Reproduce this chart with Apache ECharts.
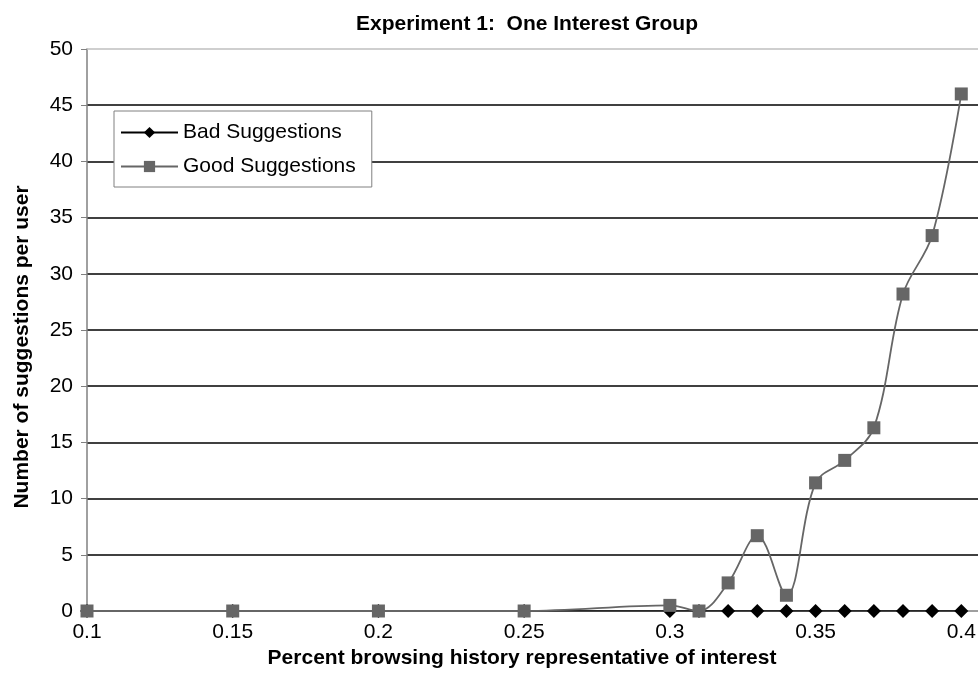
<!DOCTYPE html>
<html><head><meta charset="utf-8">
<script src="https://cdn.jsdelivr.net/npm/echarts@6/dist/echarts.min.js"></script>
<style>html,body{margin:0;padding:0;background:#fff}#c{width:978px;height:689px}</style>
</head><body><div id="c"></div>
<script>
const xValues = [0.1, 0.15, 0.2, 0.25, 0.3, 0.31, 0.32, 0.33, 0.34, 0.35, 0.36, 0.37, 0.38, 0.39, 0.4];
const badSuggestions = [0, 0, 0, 0, 0, 0, 0, 0, 0, 0, 0, 0, 0, 0, 0];
const goodSuggestions = [0, 0, 0, 0, 0.5, 0, 2.5, 6.7, 1.4, 11.4, 13.4, 16.3, 28.2, 33.4, 46.0];
const yTicks = [0, 5, 10, 15, 20, 25, 30, 35, 40, 45, 50];
const xTicks = [0.1, 0.15, 0.2, 0.25, 0.3, 0.35, 0.4];

const font = 'Liberation Sans, Arial, sans-serif';
const chart = echarts.init(document.getElementById('c'), null, {renderer: 'canvas'});
chart.setOption({
  animation: false,
  title: {
    text: 'Experiment 1:  One Interest Group',
    left: 522, top: 9, textAlign: 'center',
    textStyle: {fontFamily: font, fontSize: 21, fontWeight: 'bold', color: '#000'}
  },
  legend: {
    left: 114, top: 111, orient: 'vertical',
    itemWidth: 57, itemHeight: 14, itemGap: 13,
    padding: [11, 16, 10, 6],
    backgroundColor: '#fff', borderColor: '#808080', borderWidth: 1,
    textStyle: {fontFamily: font, fontSize: 21, color: '#000'},
    data: ['Bad Suggestions', 'Good Suggestions']
  },
  grid: {left: 87, width: 1020, top: 49, bottom: 78, containLabel: false, outerBoundsMode: 'none'},
  xAxis: [{
    type: 'value', min: 0.1, max: 0.45, interval: 0.05,
    axisLine: {show: true, lineStyle: {color: '#808080', width: 1.5}},
    axisTick: {show: false},
    splitLine: {show: false},
    axisLabel: {fontFamily: font, fontSize: 21, color: '#000', margin: 11,
      formatter: v => { const t = xTicks.find(x => Math.abs(x - v) < 1e-9); return t === undefined ? '' : String(t); }},
    name: 'Percent browsing history representative of interest',
    nameLocation: 'middle', nameGap: 31,
    nameTextStyle: {fontFamily: font, fontSize: 21, fontWeight: 'bold', color: '#000', padding: [0, 150, 0, 0]}
  }, {
    type: 'value', position: 'top', min: 0.1, max: 0.45, interval: 0.05,
    axisLine: {show: true, lineStyle: {color: '#c0c0c0', width: 1.5}},
    axisTick: {show: false}, axisLabel: {show: false}, splitLine: {show: false}
  }],
  yAxis: {
    type: 'value', min: 0, max: 50, interval: 5,
    axisLine: {show: true, lineStyle: {color: '#808080', width: 1.5}},
    axisTick: {show: true, inside: false, length: 6, lineStyle: {color: '#808080'}},
    splitLine: {show: true, showMinLine: false, showMaxLine: false, lineStyle: {color: '#000', width: 1.5}},
    axisLabel: {fontFamily: font, fontSize: 21, color: '#000', margin: 14,
      formatter: v => { const t = yTicks.find(y => Math.abs(y - v) < 1e-9); return t === undefined ? '' : String(t); }},
    name: 'Number of suggestions per user',
    nameLocation: 'middle', nameGap: 54, nameRotate: 90,
    nameTextStyle: {fontFamily: font, fontSize: 21, fontWeight: 'bold', color: '#000', padding: [0, 34, 0, 0]}
  },
  series: [{
    name: 'Bad Suggestions', type: 'line', xAxisIndex: 0,
    data: xValues.map((x, i) => [x, badSuggestions[i]]),
    symbol: 'diamond', symbolSize: 14, showAllSymbol: true,
    lineStyle: {color: '#000', width: 1.5},
    itemStyle: {color: '#000'}, z: 2
  }, {
    name: 'Good Suggestions', type: 'line', xAxisIndex: 0,
    data: xValues.map((x, i) => [x, goodSuggestions[i]]),
    symbol: 'rect', symbolSize: 13, showAllSymbol: true, smooth: 0.35,
    lineStyle: {color: '#666', width: 1.8},
    itemStyle: {color: '#666'}, z: 3
  }]
});
</script></body></html>
